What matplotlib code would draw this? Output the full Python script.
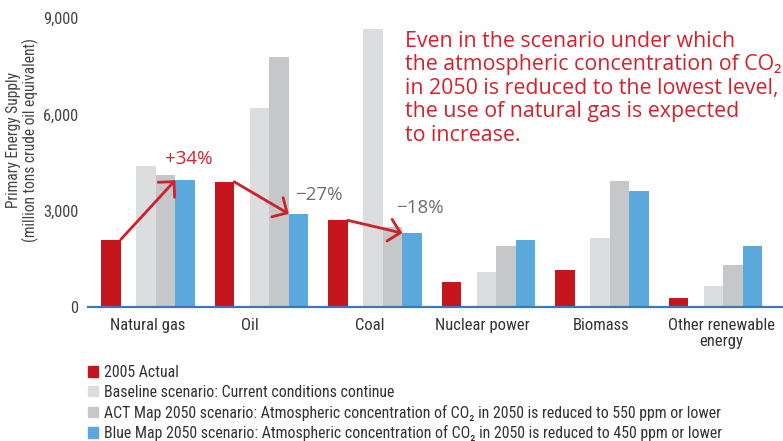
import numpy as np
import matplotlib
matplotlib.use("Agg")
import matplotlib.pyplot as plt
from matplotlib.patches import Patch

categories = ["Natural gas", "Oil", "Coal", "Nuclear power", "Biomass", "Other renewable\nenergy"]
actual_2005 = [2100, 3900, 2700, 780, 1150, 280]
baseline = [4400, 6200, 8650, 1090, 2150, 650]
act_map = [4100, 7800, 2500, 1900, 3920, 1310]
blue_map = [3950, 2900, 2300, 2090, 3610, 1900]
yticks = [0, 3000, 6000, 9000]

legend_labels = [
    "2005 Actual",
    "Baseline scenario: Current conditions continue",
    "ACT Map 2050 scenario: Atmospheric concentration of CO\u2082 in 2050 is reduced to 550 ppm or lower",
    "Blue Map 2050 scenario: Atmospheric concentration of CO\u2082 in 2050 is reduced to 450 ppm or lower",
]
note = ("Even in the scenario under which\nthe atmospheric concentration of CO\u2082\n"
        "in 2050 is reduced to the lowest level,\nthe use of natural gas is expected\nto increase.")

RED = "#c4161c"
LGRAY = "#dcdddf"
GRAY = "#c6c7c9"
BLUE = "#5ba8dc"
TXT_RED = "#d3222c"

narrow = dict(family=["Roboto Condensed", "DejaVu Sans"], stretch="condensed")
wide = dict(family=["Open Sans", "DejaVu Sans"])

fig = plt.figure(figsize=(7.83, 4.41), dpi=100)
ax = fig.add_axes([88 / 783, 1 - 307 / 441, 1 - 88 / 783, (307 - 18) / 441])

x = np.arange(len(categories))
w = 0.172
ax.bar(x - 0.322, actual_2005, w, color=RED)
ax.bar(x - 0.013, baseline, w, color=LGRAY)
ax.bar(x - 0.013 + w, act_map, w, color=GRAY)
ax.bar(x - 0.013 + 2 * w, blue_map, w, color=BLUE)

ax.set_xlim(-0.524, 5.599)
ax.set_ylim(0, 9000)
ax.set_yticks(yticks)
ax.set_yticklabels([f"{v:,}" for v in yticks], fontsize=11.8, color="#444444", **narrow)
# category labels in the original sit slightly off the group centres
nudge = np.array([0, -0.097, -0.044, -0.053, 0, 0.053])
ax.set_xticks(x + nudge)
ax.set_xticklabels(categories, fontsize=12, color="#333333", linespacing=1.05, **narrow)
ax.tick_params(axis="x", length=0, pad=8)
ax.tick_params(axis="y", length=0, pad=7)
for s in ["top", "right", "left"]:
    ax.spines[s].set_visible(False)
ax.spines["bottom"].set_color("#3a78b8")
ax.spines["bottom"].set_linewidth(1.6)

ax.set_ylabel("Primary Energy Supply\n(million tons crude oil equivalent)",
              fontsize=11.2, color="#444444", linespacing=1.0, **narrow)
ax.yaxis.set_label_coords(-0.071, 0.578)

# arrows from 2005 bar to Blue Map bar
for i in range(3):
    start = (x[i] - 0.322 + w / 2, actual_2005[i])
    end = (x[i] - 0.013 + 1.5 * w, blue_map[i])
    ax.annotate("", xy=end, xytext=start,
                arrowprops=dict(arrowstyle="->,head_length=1.0,head_width=1.0", color="#d0202a",
                                lw=2, shrinkA=0, shrinkB=0, mutation_scale=8))

ax.text(0.366, 4600, "+34%", color=TXT_RED, fontsize=13.5, ha="center", va="center", **wide)
ax.text(1.511, 3490, "\u221227%", color="#6d6e71", fontsize=13.5, ha="center", va="center", **wide)
ax.text(2.40, 3080, "\u221218%", color="#6d6e71", fontsize=13.5, ha="center", va="center", **wide)

fig.text(405 / 783, 1 - 31 / 441, note, color=TXT_RED, fontsize=15.4, va="top", ha="left",
         linespacing=1.15, **wide)

handles = [Patch(color=c) for c in [RED, LGRAY, GRAY, BLUE]]
fig.legend(handles, legend_labels, loc="upper left", bbox_to_anchor=(88 / 783, 1 - 365 / 441),
           frameon=False, prop=dict(size=11.45, **narrow), handlelength=0.64, handleheight=0.64,
           handletextpad=0.35, labelspacing=0.3, borderpad=0, borderaxespad=0,
           labelcolor="#333333")

fig.savefig("out.png", dpi=100, facecolor="white")
